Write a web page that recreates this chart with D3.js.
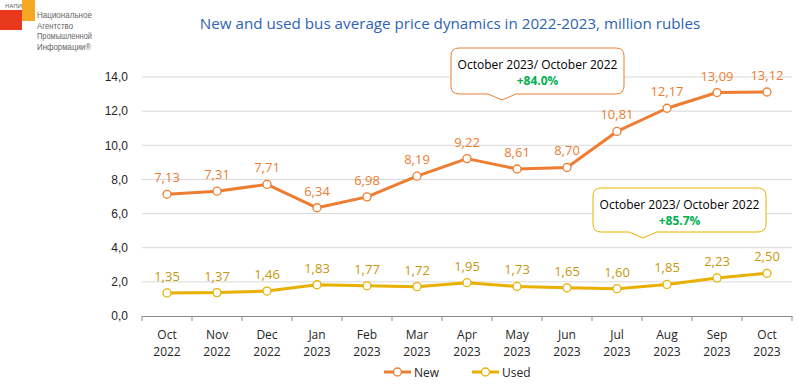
<!DOCTYPE html>
<html>
<head>
<meta charset="utf-8">
<script src="https://cdn.jsdelivr.net/npm/d3@7"></script>
<style>
  body { margin: 0; background: #fff; }
  svg { font-family: "Open Sans", "Noto Sans", sans-serif; }
</style>
</head>
<body>
<div id="chart"></div>
<script>
const months = ["Oct", "Nov", "Dec", "Jan", "Feb", "Mar", "Apr", "May", "Jun", "Jul", "Aug", "Sep", "Oct"];
const years = ["2022", "2022", "2022", "2023", "2023", "2023", "2023", "2023", "2023", "2023", "2023", "2023", "2023"];
const newPrices = [7.13, 7.31, 7.71, 6.34, 6.98, 8.19, 9.22, 8.61, 8.70, 10.81, 12.17, 13.09, 13.12];
const usedPrices = [1.35, 1.37, 1.46, 1.83, 1.77, 1.72, 1.95, 1.73, 1.65, 1.60, 1.85, 2.23, 2.50];
const yTicks = [0, 2, 4, 6, 8, 10, 12, 14];

const W = 801, H = 384;
const margin = { top: 77, right: 9, bottom: 68, left: 142 };
const width = W - margin.left - margin.right,
      height = H - margin.top - margin.bottom;

const svg = d3.select("#chart").append("svg")
    .attr("width", W).attr("height", H);

const g = svg.append("g").attr("transform", `translate(${margin.left},${margin.top})`);

const idx = d3.range(months.length);
const x = d3.scaleBand().domain(idx).range([0, width]).padding(0);
const y = d3.scaleLinear().domain([0, 14]).range([height, 0]);
const fmt = d => d3.format(".2f")(d).replace(".", ",");
const fmtAxis = d => d3.format(".1f")(d).replace(".", ",");

const cNew = "#ed7d31", cUsed = "#e8b000", cUsedLbl = "#c9960c";

// Сетка
g.selectAll(".grid").data(yTicks.filter(d => d > 0)).enter().append("line")
    .attr("x1", 0).attr("x2", width)
    .attr("y1", d => y(d)).attr("y2", d => y(d))
    .attr("stroke", "#d9d9d9").attr("stroke-width", 1);

// Ось Y
const yAxis = g.append("g").call(d3.axisLeft(y).tickValues(yTicks).tickFormat(fmtAxis).tickSize(0).tickPadding(14));
yAxis.select(".domain").remove();
yAxis.selectAll("text").attr("fill", "#262626").style("font-size", "12px");

// Ось X
const xAxis = g.append("g").attr("transform", `translate(0,${height})`)
    .call(d3.axisBottom(x).tickSize(0).tickFormat(""));
xAxis.select(".domain").attr("stroke", "#8c8c8c");
xAxis.selectAll(".tick").remove();
g.append("g").selectAll("line").data(d3.range(months.length + 1)).enter().append("line")
    .attr("x1", d => d * x.bandwidth()).attr("x2", d => d * x.bandwidth())
    .attr("y1", height).attr("y2", height + 5)
    .attr("stroke", "#8c8c8c");
const xl = g.append("g").selectAll("text").data(idx).enter().append("text")
    .attr("x", d => x(d) + x.bandwidth() / 2)
    .attr("text-anchor", "middle")
    .attr("fill", "#262626").style("font-size", "12px");
xl.append("tspan").attr("x", d => x(d) + x.bandwidth() / 2).attr("y", height + 23).text(d => months[d]);
xl.append("tspan").attr("x", d => x(d) + x.bandwidth() / 2).attr("y", height + 40).text(d => years[d]);

// Линии
function drawSeries(vals, color, lblColor) {
    const line = d3.line().x((d, i) => x(i) + x.bandwidth() / 2).y(d => y(d));
    g.append("path").datum(vals).attr("d", line)
        .attr("fill", "none").attr("stroke", color).attr("stroke-width", 3)
        .attr("stroke-linejoin", "round");
    g.selectAll(null).data(vals).enter().append("circle")
        .attr("cx", (d, i) => x(i) + x.bandwidth() / 2).attr("cy", d => y(d))
        .attr("r", 4).attr("fill", "#fff").attr("stroke", color).attr("stroke-width", 1.3);
    g.selectAll(null).data(vals).enter().append("text")
        .attr("x", (d, i) => x(i) + x.bandwidth() / 2).attr("y", d => y(d) - 12)
        .attr("text-anchor", "middle").attr("fill", lblColor).style("font-size", "13px")
        .text(fmt);
}
drawSeries(newPrices, cNew, cNew);
drawSeries(usedPrices, cUsed, cUsedLbl);

// Выноски
function callout(x0, y0, w, h, px, color, pct) {
    const r = 8, tipY = y0 + h + 6;
    const p = `M${x0 + r},${y0} H${x0 + w - r} Q${x0 + w},${y0} ${x0 + w},${y0 + r} V${y0 + h - r} Q${x0 + w},${y0 + h} ${x0 + w - r},${y0 + h}
      H${px + 14} L${px},${tipY} L${px - 14},${y0 + h} H${x0 + r} Q${x0},${y0 + h} ${x0},${y0 + h - r} V${y0 + r} Q${x0},${y0} ${x0 + r},${y0} Z`;
    svg.append("path").attr("d", p).attr("fill", "#fff").attr("stroke", color).attr("stroke-width", 1);
    svg.append("text").attr("x", x0 + w / 2).attr("y", y0 + 21).attr("text-anchor", "middle")
        .attr("fill", "#000").style("font-size", "12px").text("October 2023/ October 2022");
    svg.append("text").attr("x", x0 + w / 2).attr("y", y0 + 37).attr("text-anchor", "middle")
        .attr("fill", "#00b050").style("font-size", "12px").style("font-weight", "bold").text(pct);
}
callout(451, 48, 173, 46, 502, cNew, "+84.0%");
callout(593, 188, 173, 44, 643, cUsed, "+85.7%");

// Заголовок
svg.append("text").attr("x", 450).attr("y", 29).attr("text-anchor", "middle")
    .attr("fill", "#2e64b4").style("font-size", "15.2px")
    .text("New and used bus average price dynamics in 2022-2023, million rubles");

// Легенда
const legend = [["New", cNew, 384], ["Used", cUsed, 472]];
legend.forEach(([name, color, lx]) => {
    svg.append("line").attr("x1", lx).attr("x2", lx + 27).attr("y1", 372).attr("y2", 372)
        .attr("stroke", color).attr("stroke-width", 3);
    svg.append("circle").attr("cx", lx + 13.5).attr("cy", 372).attr("r", 4)
        .attr("fill", "#fff").attr("stroke", color).attr("stroke-width", 1.3);
    svg.append("text").attr("x", lx + 30).attr("y", 376.5).attr("fill", "#262626")
        .style("font-size", "12px").text(name);
});

// Логотип
svg.append("rect").attr("x", 0).attr("y", 10).attr("width", 22).attr("height", 20).attr("fill", "#e8391d");
svg.append("rect").attr("x", 22).attr("y", 0).attr("width", 13).attr("height", 21).attr("fill", "#f7a823");
svg.append("text").attr("x", 5).attr("y", 8).attr("fill", "#555").style("font-size", "6px").text("НАПИ");
const logoLines = [["Национальное", 55], ["Агентство", 36], ["Промышленной", 55], ["Информации®", 54]];
logoLines.forEach(([t, len], i) => {
    svg.append("text").attr("x", 37).attr("y", 18 + i * 10.5).attr("fill", "#666")
        .style("font-family", "Liberation Sans, sans-serif")
        .style("font-size", "9px").attr("textLength", len).attr("lengthAdjust", "spacingAndGlyphs")
        .text(t);
});
</script>
</body>
</html>
